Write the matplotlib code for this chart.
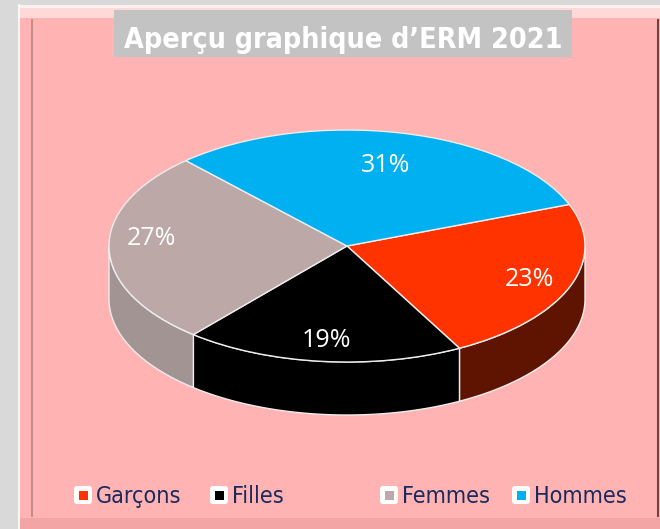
import os
import numpy as np
import matplotlib
matplotlib.use("Agg")
import matplotlib.pyplot as plt
import matplotlib.font_manager as fm
from matplotlib.patches import Rectangle, Polygon, FancyBboxPatch

# ---- data ----
categories = ["Garçons", "Filles", "Femmes", "Hommes"]
values = [23, 19, 27, 31]
top_colors = ["#FF3300", "#000000", "#BCA8A6", "#00B0F0"]
side_colors = ["#5E1400", "#000000", "#A39494", "#0088BB"]
title = "Aperçu graphique d\u2019ERM 2021"


def pick_font(patterns, fallback):
    files = {os.path.basename(f.fname).lower(): f.fname for f in fm.fontManager.ttflist}
    for p in patterns:
        for name, path in files.items():
            if name.startswith(p):
                return fm.FontProperties(fname=path)
    return fallback


title_fp = pick_font(["arialnb", "liberationsansnarrow-bold.", "dejavusanscondensed-bold.",
                      "robotocondensed-bold.", "opensanscondensed-bold"],
                     fm.FontProperties(family="Roboto", weight="bold"))
legend_fp = pick_font(["tahoma.", "dejavusanscondensed."],
                      fm.FontProperties(family="DejaVu Sans"))

W, H = 660, 529
fig = plt.figure(figsize=(W / 100, H / 100), dpi=100, facecolor="#D9D9D9")
renderer = fig.canvas.get_renderer()


def fit_width(txt, target):
    ext = txt.get_window_extent(renderer=renderer)
    txt.set_fontsize(txt.get_fontsize() * target / ext.width)


# background / frame in pixel coords
bg = fig.add_axes([0, 0, 1, 1])
bg.set_xlim(0, W)
bg.set_ylim(H, 0)
bg.axis("off")
bg.add_patch(Rectangle((19, 5), W - 19, H - 5, facecolor="#FFB4B3", edgecolor="none"))
bg.add_patch(Rectangle((19, 5), W - 19, 13, facecolor="#FFD9D8", edgecolor="none"))
bg.add_patch(Rectangle((19, 5), W - 19, 3, facecolor="#FFF0F0", edgecolor="none"))
bg.add_patch(Rectangle((19, 518), W - 19, 11, facecolor="#F2A5A4", edgecolor="none"))
bg.plot([32, 32], [20, 516], color="#B98584", lw=1.2)
bg.plot([658, 658], [20, 516], color="#6E4444", lw=1.5)
bg.plot([19, 19], [5, 529], color="#FFFFFF", lw=1.2)

# title
bg.add_patch(Rectangle((114, 10), 458, 47, facecolor="#C3C3C3", edgecolor="none"))
tt = bg.text(343, 37, title, ha="center", va="baseline", color="white",
             fontsize=22, fontproperties=title_fp)
tt.set_fontsize(22)
fit_width(tt, 436)
# move baseline to y=48 px
tt.set_position((343, 48))

# legend
leg_x = [74, 210, 380, 512]
for cat, col, x in zip(categories, top_colors, leg_x):
    bg.add_patch(FancyBboxPatch((x + 1.5, 487.5), 15, 15,
                                boxstyle="round,pad=1.5,rounding_size=3",
                                facecolor="white", edgecolor="none"))
    bg.add_patch(Rectangle((x + 5, 491), 8.5, 8.5, facecolor=col, edgecolor="none"))
    lt = bg.text(x + 22, 503, cat, ha="left", va="baseline", color="#1B2A5E",
                 fontproperties=legend_fp)
    lt.set_fontsize(16)
    if cat == categories[0]:
        ext = lt.get_window_extent(renderer=renderer)
        leg_size = 16 * 86 / ext.width
    lt.set_fontsize(leg_size)

# pie axes: x unit = 238 px, y unit = 116 px, centre at (347, 246)
cx, cy, a, b = 347, 246, 238, 116
xl = (-1.3, 1.3)
yl = (-1.6, 1.1)
left_px = cx + xl[0] * a
right_px = cx + xl[1] * a
top_px = cy - yl[1] * b
bot_px = cy - yl[0] * b
ax = fig.add_axes([left_px / W, 1 - bot_px / H, (right_px - left_px) / W, (bot_px - top_px) / H])
ax.patch.set_alpha(0)

wedges, texts, autotexts = ax.pie(
    values, colors=top_colors, startangle=21, counterclock=False,
    autopct="%d%%", pctdistance=0.82,
    wedgeprops=dict(edgecolor="#EDEDED", linewidth=1.0, zorder=3),
    textprops=dict(color="white", fontsize=18, family=["Open Sans", "DejaVu Sans"]),
)
ax.set_aspect("auto")
ax.set_xlim(*xl)
ax.set_ylim(*yl)
ax.axis("off")

for t in autotexts:
    t.set_zorder(5)
# Hommes label sits a bit nearer the centre
hx, hy = autotexts[3].get_position()
autotexts[3].set_position((hx * 0.87, hy * 0.87))
# Femmes label a little higher (perspective)
fx, fy = autotexts[2].get_position()
autotexts[2].set_position((fx, fy + 0.08))

depth = 53 / b
for w, sc in zip(wedges, side_colors):
    t1, t2 = w.theta1, w.theta2
    for k in range(-2, 3):
        lo = max(t1, 180 + 360 * k)
        hi = min(t2, 360 + 360 * k)
        if hi > lo:
            th = np.radians(np.linspace(lo, hi, 200))
            xs = np.cos(th)
            ys = np.sin(th)
            pts = np.concatenate([
                np.column_stack([xs, ys]),
                np.column_stack([xs[::-1], ys[::-1] - depth]),
            ])
            ax.add_patch(Polygon(pts, closed=True, facecolor=sc,
                                 edgecolor="#EDEDED", linewidth=1.0, zorder=2))

fig.savefig("out.png", dpi=100, facecolor=fig.get_facecolor())
